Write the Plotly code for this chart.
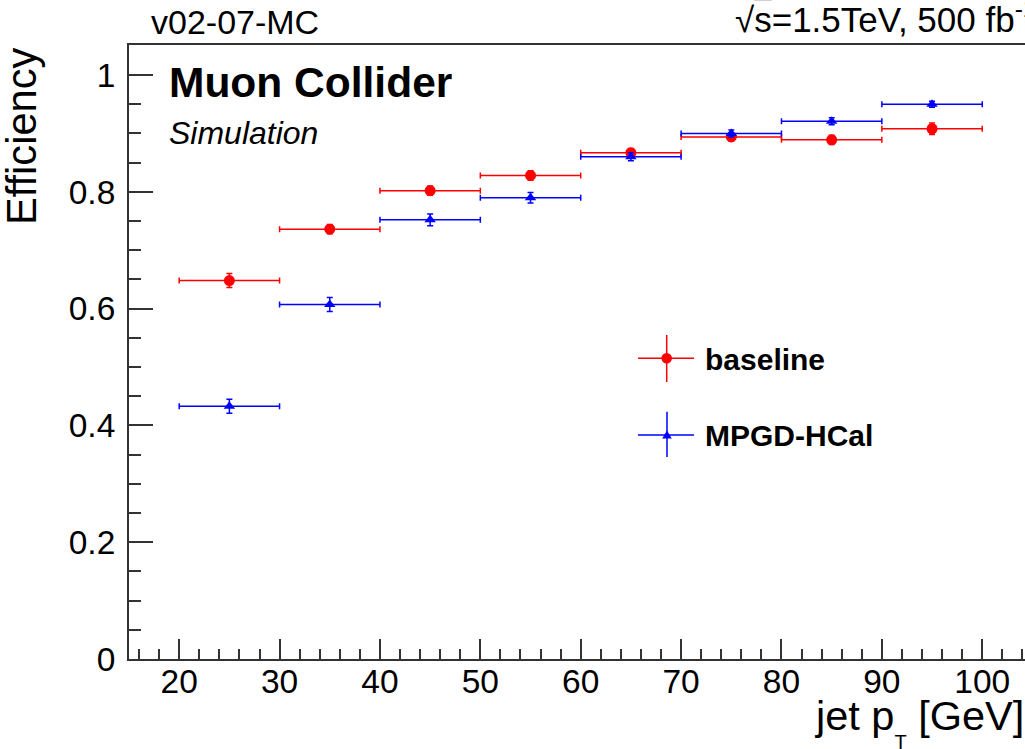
import plotly.graph_objects as go

# ---------------- data ----------------
pt_center = [25, 35, 45, 55, 65, 75, 85, 95]
pt_halfwidth = [5, 5, 5, 5, 5, 5, 5, 5]

eff_baseline = [0.648, 0.736, 0.802, 0.828, 0.867, 0.894, 0.889, 0.908]
err_baseline = [0.012, 0.008, 0.008, 0.008, 0.007, 0.007, 0.008, 0.010]

eff_mpgd = [0.433, 0.607, 0.752, 0.790, 0.860, 0.900, 0.921, 0.950]
err_mpgd = [0.012, 0.012, 0.010, 0.009, 0.007, 0.006, 0.006, 0.005]

x_ticks = [20, 30, 40, 50, 60, 70, 80, 90, 100]
y_ticks = [0, 0.2, 0.4, 0.6, 0.8, 1.0]
y_ticklabels = ["0", "0.2", "0.4", "0.6", "0.8", "1"]

# ---------------- layout geometry (pixels) ----------------
W_FIG, H_FIG = 1025, 749
L, R, T, B = 129, 1025, 45, 659
PW, PH = R - L, B - T


def xp(px):
    return (px - L) / PW


def yp(py):
    return (B - py) / PH


FONT = "Liberation Sans, Arial, Helvetica, sans-serif"
RED = "rgb(255,0,0)"
BLUE = "rgb(0,0,255)"

fig = go.Figure()

fig.add_trace(go.Scatter(
    x=pt_center, y=eff_baseline, mode="markers", name="baseline",
    marker=dict(symbol="circle", size=11, color=RED),
    error_x=dict(type="data", array=pt_halfwidth, color=RED, thickness=1.5, width=3),
    error_y=dict(type="data", array=err_baseline, color=RED, thickness=1.5, width=3),
    showlegend=False,
))
fig.add_trace(go.Scatter(
    x=pt_center, y=eff_mpgd, mode="markers", name="MPGD-HCal",
    marker=dict(symbol="triangle-up", size=10, color=BLUE),
    error_x=dict(type="data", array=pt_halfwidth, color=BLUE, thickness=1.5, width=3),
    error_y=dict(type="data", array=err_mpgd, color=BLUE, thickness=1.5, width=3),
    showlegend=False,
))

AX = "#333333"
fig.update_layout(
    width=W_FIG, height=H_FIG,
    margin=dict(l=L, r=W_FIG - R, t=T, b=H_FIG - B, pad=0),
    paper_bgcolor="white", plot_bgcolor="white",
    font=dict(family=FONT, color="black"),
    xaxis=dict(
        range=[15, 104.26], showgrid=False, zeroline=False,
        showline=True, linecolor=AX, linewidth=2, mirror=True,
        tickmode="array", tickvals=x_ticks, ticktext=[str(v) for v in x_ticks],
        ticks="inside", ticklen=20, tickwidth=1.5, tickcolor=AX,
        tickfont=dict(family=FONT, size=33.5, color="black"),
        minor=dict(dtick=2, tick0=0, ticks="inside", ticklen=10, tickwidth=1.5, tickcolor=AX),
        ticklabelstandoff=-8,
    ),
    yaxis=dict(
        range=[0, 1.0514], showgrid=False, zeroline=False,
        showline=True, linecolor=AX, linewidth=2, mirror=False,
        tickmode="array", tickvals=y_ticks, ticktext=y_ticklabels,
        ticks="inside", ticklen=24, tickwidth=1.5, tickcolor=AX,
        tickfont=dict(family=FONT, size=33.5, color="black"),
        minor=dict(dtick=0.05, tick0=0, ticks="inside", ticklen=12, tickwidth=1.5, tickcolor=AX),
        ticklabelstandoff=5,
    ),
)

ann = []
# y-axis title (top aligned, rotated)
ann.append(dict(text="Efficiency", textangle=-90, xref="paper", yref="paper",
                x=xp(47), y=yp(46), xanchor="right", yanchor="top", showarrow=False,
                font=dict(family=FONT, size=41.6, color="black")))
# x-axis title (right aligned)
ann.append(dict(text="jet p<sub><span style='font-size:20px;baseline-shift:-10px'>T</span></sub> [GeV]",
                xref="paper", yref="paper", x=xp(1026), y=yp(690),
                xanchor="right", yanchor="top", showarrow=False,
                font=dict(family=FONT, size=41.5, color="black")))
# top-left label
ann.append(dict(text="v02-07-MC", xref="paper", yref="paper", x=xp(149), y=yp(43),
                xanchor="left", yanchor="bottom", showarrow=False,
                font=dict(family=FONT, size=34, color="black")))
# top-right label
ann.append(dict(text="√<span style='text-decoration:overline'>s</span>=1.5TeV, 500 fb<sup>-1</sup>",
                xref="paper", yref="paper", x=xp(733), y=yp(41),
                xanchor="left", yanchor="bottom", showarrow=False,
                font=dict(family=FONT, size=35, color="black")))
# Muon Collider / Simulation
ann.append(dict(text="<b>Muon Collider</b>", xref="paper", yref="paper", x=xp(167), y=yp(108),
                xanchor="left", yanchor="bottom", showarrow=False,
                font=dict(family=FONT, size=42.5, color="black")))
ann.append(dict(text="<i>Simulation</i>", xref="paper", yref="paper", x=xp(167), y=yp(153),
                xanchor="left", yanchor="bottom", showarrow=False,
                font=dict(family=FONT, size=32, color="black")))
# legend texts
ann.append(dict(text="<b>baseline</b>", xref="paper", yref="paper", x=xp(703), y=yp(377.5),
                xanchor="left", yanchor="bottom", showarrow=False,
                font=dict(family=FONT, size=30, color="black")))
ann.append(dict(text="<b>MPGD-HCal</b>", xref="paper", yref="paper", x=xp(703), y=yp(453.5),
                xanchor="left", yanchor="bottom", showarrow=False,
                font=dict(family=FONT, size=30, color="black")))

shapes = []
# legend symbol: baseline
cx, cy = 666.7, 358.3
shapes.append(dict(type="line", xref="paper", yref="paper", x0=xp(638), x1=xp(694), y0=yp(cy), y1=yp(cy),
                   line=dict(color=RED, width=1.5)))
shapes.append(dict(type="line", xref="paper", yref="paper", x0=xp(cx), x1=xp(cx), y0=yp(335), y1=yp(382),
                   line=dict(color=RED, width=1.5)))
shapes.append(dict(type="circle", xref="paper", yref="paper", x0=xp(cx - 5.3), x1=xp(cx + 5.3),
                   y0=yp(cy + 5.3), y1=yp(cy - 5.3), fillcolor=RED, line=dict(width=0)))
# legend symbol: MPGD-HCal
cx2, cy2 = 667, 435
shapes.append(dict(type="line", xref="paper", yref="paper", x0=xp(638), x1=xp(694), y0=yp(cy2), y1=yp(cy2),
                   line=dict(color=BLUE, width=1.5)))
shapes.append(dict(type="line", xref="paper", yref="paper", x0=xp(cx2), x1=xp(cx2), y0=yp(411.7), y1=yp(457),
                   line=dict(color=BLUE, width=1.5)))
tri = "M {:.5f},{:.5f} L {:.5f},{:.5f} L {:.5f},{:.5f} Z".format(
    xp(cx2 - 4.8), yp(cy2 + 3.6), xp(cx2 + 4.8), yp(cy2 + 3.6), xp(cx2), yp(cy2 - 4.6))
shapes.append(dict(type="path", xref="paper", yref="paper", path=tri, fillcolor=BLUE, line=dict(width=0)))

fig.update_layout(annotations=ann, shapes=shapes)

fig.write_html("out.html")
